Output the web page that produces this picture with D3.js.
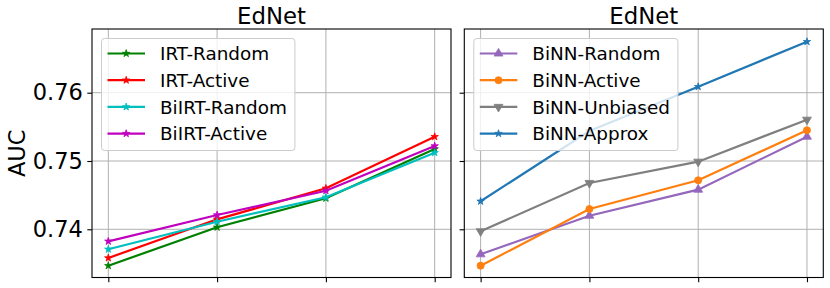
<!DOCTYPE html>
<html>
<head>
<meta charset="utf-8">
<script src="https://cdn.jsdelivr.net/npm/d3@7"></script>
<style>
  body { margin: 0; background: #fff; }
  svg { font-family: "DejaVu Sans", sans-serif; }
</style>
</head>
<body>
<div id="chart"></div>
<script>
// x positions (tick labels are cut off in the original figure)
var steps = [1, 2, 3, 4];
var yTicks = [0.74, 0.75, 0.76];

// left panel
var irtRandom   = [0.73467, 0.74029, 0.74454, 0.75176];
var irtActive   = [0.73580, 0.74146, 0.74600, 0.75356];
var biirtRandom = [0.73707, 0.74111, 0.74469, 0.75122];
var biirtActive = [0.73824, 0.74209, 0.74565, 0.75220];

// right panel
var binnRandom   = [0.73634, 0.74199, 0.74580, 0.75356];
var binnActive   = [0.73467, 0.74297, 0.74717, 0.75450];
var binnUnbiased = [0.73971, 0.74678, 0.74990, 0.75605];
var binnApprox   = [0.74410, 0.75440, 0.76088, 0.76747];

var leftSeries = [
    {name: "IRT-Random", values: irtRandom, color: "#008000", marker: "star"},
    {name: "IRT-Active", values: irtActive, color: "#ff0000", marker: "star"},
    {name: "BiIRT-Random", values: biirtRandom, color: "#00bfbf", marker: "star"},
    {name: "BiIRT-Active", values: biirtActive, color: "#bf00bf", marker: "star"}
];
var rightSeries = [
    {name: "BiNN-Random", values: binnRandom, color: "#9467bd", marker: "tri"},
    {name: "BiNN-Active", values: binnActive, color: "#ff7f0e", marker: "circle"},
    {name: "BiNN-Unbiased", values: binnUnbiased, color: "#7f7f7f", marker: "tridown"},
    {name: "BiNN-Approx", values: binnApprox, color: "#1f77b4", marker: "star"}
];

var svgWidth = 830;
var svgHeight = 288;
var plotTop = 29, plotBottom = 277.5;
var panelWidth = 359;

var svg = d3.select("#chart")
    .append("svg")
    .attr("width", svgWidth)
    .attr("height", svgHeight);

var yScale = d3.scaleLinear()
    .domain([0.73294, 0.76933])
    .range([plotBottom, plotTop]);

function symbolFor(marker) {
    if (marker == "star") return d3.symbol().type(d3.symbolStar).size(17);
    if (marker == "circle") return d3.symbol().type(d3.symbolCircle).size(40);
    return d3.symbol().type(d3.symbolTriangle).size(34);
}

function drawMarker(g, s, x, y) {
    var rot = s.marker == "tridown" ? 180 : 0;
    g.append("path")
        .attr("d", symbolFor(s.marker)())
        .attr("transform", `translate(${x},${y}) rotate(${rot})`)
        .attr("fill", s.color)
        .attr("stroke", s.color)
        .attr("stroke-width", 0.8);
}

function makePanel(left, series, showLabels) {
    var xScale = d3.scaleLinear()
        .domain([0.85, 4.15])
        .range([left, left + panelWidth]);

    var g = svg.append("g");

    // grid
    g.selectAll(".vgrid")
        .data(steps)
        .enter()
        .append("line")
        .attr("x1", d => xScale(d))
        .attr("x2", d => xScale(d))
        .attr("y1", plotTop)
        .attr("y2", plotBottom)
        .attr("stroke", "#b0b0b0")
        .attr("stroke-width", 1);

    g.selectAll(".hgrid")
        .data(yTicks)
        .enter()
        .append("line")
        .attr("x1", left)
        .attr("x2", left + panelWidth)
        .attr("y1", d => yScale(d))
        .attr("y2", d => yScale(d))
        .attr("stroke", "#b0b0b0")
        .attr("stroke-width", 1);

    // lines + markers
    var line = d3.line()
        .x((d, i) => xScale(steps[i]))
        .y(d => yScale(d));

    series.forEach(function(s) {
        g.append("path")
            .datum(s.values)
            .attr("d", line)
            .attr("fill", "none")
            .attr("stroke", s.color)
            .attr("stroke-width", 2.2);
        s.values.forEach(function(v, i) {
            drawMarker(g, s, xScale(steps[i]), yScale(v));
        });
    });

    // axes
    var bottomAxis = d3.axisBottom(xScale).tickValues(steps).tickFormat("").tickSizeInner(4.7).tickSizeOuter(0);
    var leftAxis = d3.axisLeft(yScale).tickValues(yTicks).tickSizeInner(4.7).tickSizeOuter(0).tickPadding(4.5)
        .tickFormat(showLabels ? d3.format(".2f") : "");

    var bx = g.append("g")
        .attr("transform", `translate(0, ${plotBottom})`)
        .call(bottomAxis);
    bx.select(".domain").remove();
    bx.selectAll("line").attr("stroke", "#000").attr("stroke-width", 1.1);

    var ly = g.append("g")
        .attr("transform", `translate(${left}, 0)`)
        .call(leftAxis);
    ly.select(".domain").remove();
    ly.selectAll("line").attr("stroke", "#000").attr("stroke-width", 1.1);
    ly.selectAll("text")
        .attr("font-size", 22.5)
        .attr("font-family", "DejaVu Sans")
        .attr("fill", "#000");

    // frame
    g.append("rect")
        .attr("x", left)
        .attr("y", plotTop)
        .attr("width", panelWidth)
        .attr("height", plotBottom - plotTop)
        .attr("fill", "none")
        .attr("stroke", "#000")
        .attr("stroke-width", 1.1);

    // title
    g.append("text")
        .attr("x", left + panelWidth / 2)
        .attr("y", 24)
        .attr("text-anchor", "middle")
        .attr("font-size", 22.8)
        .text("EdNet");

    // legend
    var lx = left + 9.5, ly0 = 38.5;
    var legend = g.append("g");
    var box = legend.append("rect")
        .attr("x", lx)
        .attr("y", ly0)
        .attr("height", 112)
        .attr("rx", 3)
        .attr("fill", "#fff")
        .attr("fill-opacity", 0.8)
        .attr("stroke", "#cccccc")
        .attr("stroke-width", 1);

    var maxW = 0;
    series.forEach(function(s, i) {
        var ry = ly0 + 15 + i * 26.7;
        legend.append("line")
            .attr("x1", lx + 6)
            .attr("x2", lx + 43.5)
            .attr("y1", ry)
            .attr("y2", ry)
            .attr("stroke", s.color)
            .attr("stroke-width", 2.2);
        drawMarker(legend, s, lx + 24.7, ry);
        var t = legend.append("text")
            .attr("x", lx + 58.5)
            .attr("y", ry)
            .attr("dy", "0.36em")
            .attr("font-size", 18.4)
            .text(s.name);
        maxW = Math.max(maxW, t.node().getComputedTextLength());
    });
    box.attr("width", 58.5 + maxW + 8);
}

makePanel(92, leftSeries, true);
makePanel(464.3, rightSeries, false);

svg.append("text")
    .attr("transform", `translate(25, ${(plotTop + plotBottom) / 2}) rotate(-90)`)
    .attr("text-anchor", "middle")
    .attr("font-size", 22.5)
    .text("AUC");
</script>
</body>
</html>
